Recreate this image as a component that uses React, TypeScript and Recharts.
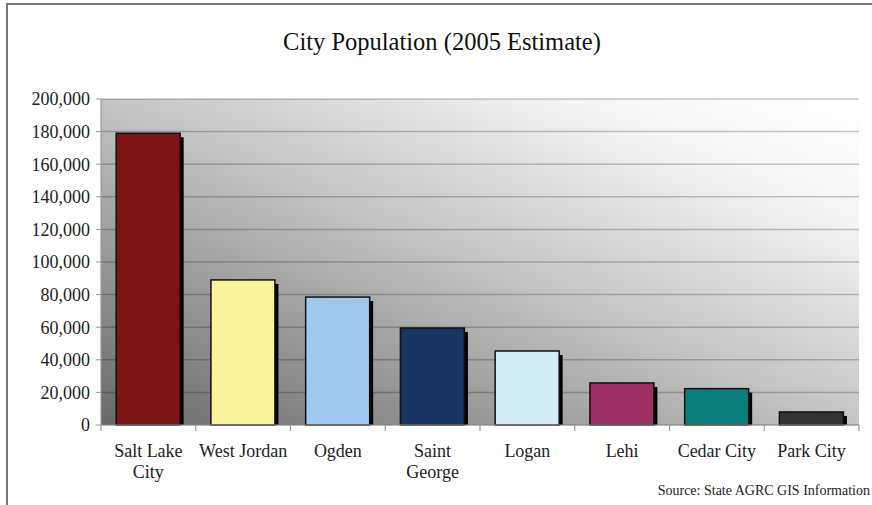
import React from 'react';
import { BarChart, Bar, XAxis, YAxis, CartesianGrid, Cell } from 'recharts';

const cities = ['Salt Lake City', 'West Jordan', 'Ogden', 'Saint George', 'Logan', 'Lehi', 'Cedar City', 'Park City'];
const labelLines = [['Salt Lake', 'City'], ['West Jordan'], ['Ogden'], ['Saint', 'George'], ['Logan'], ['Lehi'], ['Cedar City'], ['Park City']];
const populations = [179000, 89000, 78500, 59500, 45400, 25800, 22300, 8000];
const barColors = ['#7d1416', '#f9f49c', '#9fc9ec', '#183563', '#d3edf5', '#9b2e63', '#0a7f7b', '#333333'];
const yTicks = [0, 20000, 40000, 60000, 80000, 100000, 120000, 140000, 160000, 180000, 200000];

const data = cities.map((c, i) => ({ city: c, pop: populations[i], idx: i }));

const FONT = '"Liberation Serif", "Times New Roman", serif';

const ShadowBar = (props: any) => {
  const { x, y, width, height, fill } = props;
  if (height == null || height <= 0) return null;
  return (
    <g>
      <rect x={x + 3.5} y={y + 4} width={width} height={Math.max(0, height - 4)} fill="#000" />
      <rect x={x} y={y} width={width} height={height} fill={fill} stroke="#111" strokeWidth={1.5} />
    </g>
  );
};

const XTick = (props: any) => {
  const { x, y, payload } = props;
  const idx = payload.index ?? cities.indexOf(payload.value);
  const half = typeof payload.offset === 'number' && payload.offset > 0 ? payload.offset : 47.375;
  const lines = labelLines[idx] || [payload.value];
  return (
    <g>
      <line x1={x - half} x2={x - half} y1={y} y2={y + 6} stroke="#999" strokeWidth={1.2} />
      {idx === cities.length - 1 && (
        <line x1={x + half} x2={x + half} y1={y} y2={y + 6} stroke="#999" strokeWidth={1.2} />
      )}
      {lines.map((t: string, k: number) => (
        <text key={k} x={x} y={y + 32 + k * 21} textAnchor="middle" fontFamily={FONT} fontSize={18} fill="#222">
          {t}
        </text>
      ))}
    </g>
  );
};

export default function App() {
  return (
    <div style={{ position: 'absolute', left: 0, top: 0, width: 872, height: 505, background: '#fff', overflow: 'hidden' }}>
      <svg width={0} height={0} style={{ position: 'absolute' }}>
        <defs>
          <linearGradient id="plotBg" x1="0" y1="1" x2="1" y2="0">
            <stop offset="0" stopColor="#686868" />
            <stop offset="0.5" stopColor="#c4c4c4" />
            <stop offset="0.82" stopColor="#f6f6f6" />
            <stop offset="1" stopColor="#ffffff" />
          </linearGradient>
        </defs>
      </svg>
      <BarChart
        width={872}
        height={505}
        data={data}
        margin={{ top: 99, right: 13, bottom: 0, left: 0 }}
        barCategoryGap="16%"
      >
        <CartesianGrid vertical={false} fill="url(#plotBg)" stroke="rgba(0,0,0,0.22)" strokeWidth={1.5} />
        <XAxis
          dataKey="city"
          height={80}
          interval={0}
          tickSize={0}
          tickMargin={0}
          tickLine={false}
          axisLine={{ stroke: '#999', strokeWidth: 1.2 }}
          tick={<XTick />}
        />
        <XAxis xAxisId="top" orientation="top" dataKey="city" height={0} tick={false} tickLine={false} axisLine={{ stroke: '#8a8a8a', strokeWidth: 2 }} />
        <YAxis
          width={101}
          domain={[0, 200000]}
          ticks={yTicks}
          interval={0}
          tickSize={5}
          tickMargin={6}
          tickLine={{ stroke: '#999' }}
          axisLine={{ stroke: '#999', strokeWidth: 1.2 }}
          tick={{ fontFamily: FONT, fontSize: 18, fill: '#222' }}
          tickFormatter={(v: number) => v.toLocaleString('en-US')}
        />
        <YAxis yAxisId="right" orientation="right" width={0} domain={[0, 200000]} tick={false} tickLine={false} axisLine={{ stroke: '#8a8a8a', strokeWidth: 2 }} />
        <Bar dataKey="pop" shape={<ShadowBar />} isAnimationActive={false}>
          {data.map((d, i) => (
            <Cell key={d.city} fill={barColors[i]} />
          ))}
        </Bar>
      </BarChart>
      <svg width={872} height={505} style={{ position: 'absolute', left: 0, top: 0, pointerEvents: 'none' }}>
        <line x1={7} y1={4} x2={7} y2={505} stroke="#777" strokeWidth={2} />
        <line x1={6} y1={4} x2={872} y2={4} stroke="#777" strokeWidth={2} />
        <text x={442} y={50} textAnchor="middle" fontFamily={FONT} fontSize={24.5} fill="#111">
          City Population (2005 Estimate)
        </text>
        <text x={870} y={495} textAnchor="end" fontFamily={FONT} fontSize={14} fill="#222">
          Source: State AGRC GIS Information
        </text>
      </svg>
    </div>
  );
}
